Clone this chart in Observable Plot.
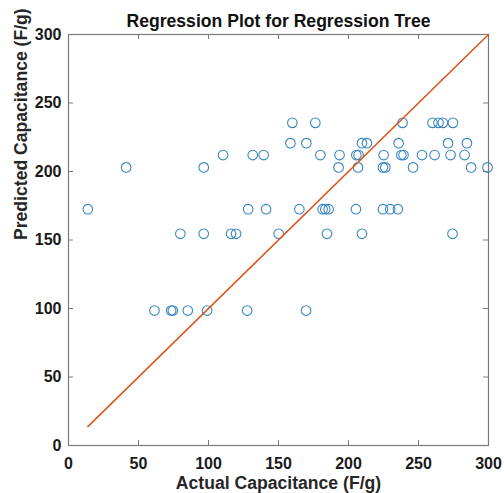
<!DOCTYPE html>
<html>
<head>
<meta charset="utf-8">
<script src="https://cdn.jsdelivr.net/npm/d3@7"></script>
<script src="https://cdn.jsdelivr.net/npm/@observablehq/plot@0.6"></script>
<style>
  body { margin: 0; background: #fff; }
  #chart svg { display: block; }
</style>
</head>
<body>
<div id="chart"></div>
<script>
// Regression tree predictions fall on a few discrete levels (F/g);
// each array lists the actual capacitance of the samples at that level.
const predictedLevels = [98.5, 154.5, 172.5, 203, 212, 220.7, 235.5];
const actualAt98 = [61.4, 73.3, 74.5, 85.2, 99.0, 127.6, 169.7];
const actualAt154 = [79.9, 96.6, 116.1, 119.7, 150.1, 184.6, 209.6, 274.3];
const actualAt172 = [13.8, 128.3, 141.1, 164.9, 181.5, 183.4, 185.8, 205.3, 224.6, 229.8, 235.3];
const actualAt203 = [41.2, 96.6, 192.9, 206.8, 224.6, 226.3, 246.1, 287.6, 299.3];
const actualAt212 = [110.4, 131.6, 139.4, 179.9, 193.6, 205.6, 207.2, 225.1, 237.7, 239.3, 252.5, 261.5, 272.9, 282.9];
const actualAt220 = [158.5, 169.9, 209.6, 213.2, 235.8, 271.1, 284.6];
const actualAt235 = [159.9, 176.3, 238.6, 260.0, 264.3, 267.4, 274.6];

// Ideal-fit line y = x, spanning the actual range
const fitLine = [13.8, 300];

const xTicks = [0, 50, 100, 150, 200, 250, 300];
const yTicks = [0, 50, 100, 150, 200, 250, 300];

const titleText = "Regression Plot for Regression Tree";
const xLabel = "Actual Capacitance (F/g)";
const yLabel = "Predicted Capacitance (F/g)";

const groups = [actualAt98, actualAt154, actualAt172, actualAt203, actualAt212, actualAt220, actualAt235];
const points = groups.flatMap((arr, i) => arr.map(a => ({actual: a, predicted: predictedLevels[i]})));
const fitPoints = fitLine.map(v => ({actual: v, predicted: v}));

const W = 504, H = 493;
const mL = 68, mR = 16, mT = 34, mB = 48;
const plotW = W - mL - mR, plotH = H - mT - mB;
const tickLen = 5;
const axisColor = "#7a7a7a";
const font = "'Liberation Sans', Arial, Helvetica, sans-serif";
const tickFont = 16, labelFont = 17.6;

const chart = Plot.plot({
  width: W,
  height: H,
  marginLeft: mL,
  marginRight: mR,
  marginTop: mT,
  marginBottom: mB,
  x: {domain: [0, 300], label: null},
  y: {domain: [0, 300], label: null},
  style: {fontFamily: font, fontSize: `${tickFont}px`, fontWeight: "bold", color: "#000", background: "#fff"},
  marks: [
    Plot.frame({stroke: axisColor, strokeWidth: 1.2}),
    // inward tick marks on all four sides
    Plot.tickX(xTicks, {x: d => d, insetTop: plotH - tickLen, stroke: axisColor}),
    Plot.tickX(xTicks, {x: d => d, insetBottom: plotH - tickLen, stroke: axisColor}),
    Plot.tickY(yTicks, {y: d => d, insetRight: plotW - tickLen, stroke: axisColor}),
    Plot.tickY(yTicks, {y: d => d, insetLeft: plotW - tickLen, stroke: axisColor}),
    Plot.axisX({ticks: xTicks, tickSize: 0, tickPadding: 12, label: null, fontSize: tickFont, fontWeight: "bold", fill: "#1a1a1a"}),
    Plot.axisY({ticks: yTicks, tickSize: 0, tickPadding: 7, label: null, fontSize: tickFont, fontWeight: "bold", fill: "#1a1a1a"}),
    Plot.dot(points, {x: "actual", y: "predicted", r: 4.8, stroke: "#3a86c2", strokeWidth: 1.1, fill: "none"}),
    Plot.line(fitPoints, {x: "actual", y: "predicted", stroke: "#D95319", strokeWidth: 1.5}),
    Plot.text([titleText], {text: d => d, frameAnchor: "top", lineAnchor: "middle", dy: -13, fontSize: labelFont, fontWeight: "bold", fill: "#111"}),
    Plot.text([xLabel], {text: d => d, frameAnchor: "bottom", lineAnchor: "middle", dy: 38, fontSize: labelFont, fontWeight: "bold", fill: "#262626"}),
    Plot.text([yLabel], {text: d => d, frameAnchor: "left", lineAnchor: "middle", rotate: -90, dx: -47, fontSize: labelFont, fontWeight: "bold", fill: "#262626"})
  ]
});

document.getElementById("chart").appendChild(chart);
</script>
</body>
</html>
